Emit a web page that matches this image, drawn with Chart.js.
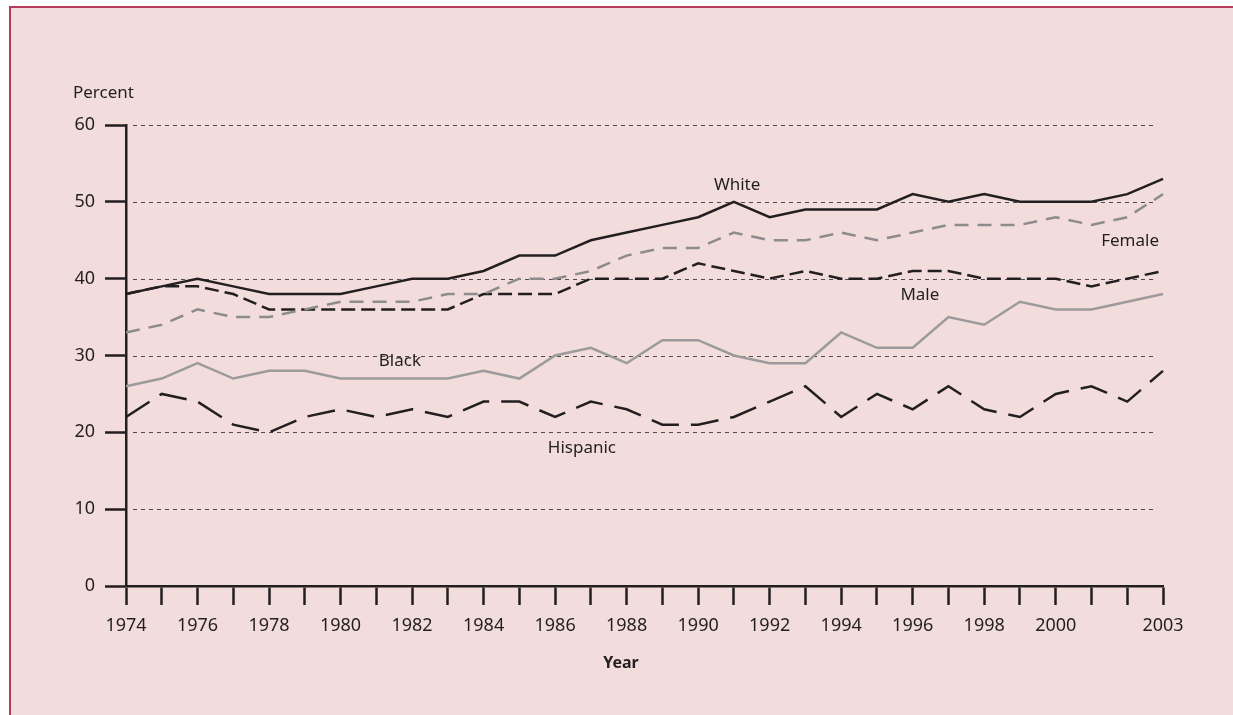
<!DOCTYPE html>
<html>
<head>
<meta charset="utf-8">
<script src="https://cdn.jsdelivr.net/npm/chart.js@4.4.0/dist/chart.umd.min.js"></script>
<style>
  html, body { margin: 0; padding: 0; background: #fff; overflow: hidden; }
  #frame { position: absolute; left: 9px; top: 6px; width: 1240px; height: 720px;
           background: #f2dddc; border-top: 2px solid #b83a5a; border-left: 2px solid #b83a5a; }
  #wrap { position: absolute; left: 0; top: 0; width: 1233px; height: 715px; }
</style>
</head>
<body>
<div id="frame"></div>
<div id="wrap"><canvas id="chart"></canvas></div>
<script>
const years = [1974, 1975, 1976, 1977, 1978, 1979, 1980, 1981, 1982, 1983, 1984, 1985, 1986, 1987, 1988,
               1989, 1990, 1991, 1992, 1993, 1994, 1995, 1996, 1997, 1998, 1999, 2000, 2001, 2002, 2003];
const yearLabels = [1974, 1976, 1978, 1980, 1982, 1984, 1986, 1988, 1990, 1992, 1994, 1996, 1998, 2000, 2003];

const white    = [38, 39, 40, 39, 38, 38, 38, 39, 40, 40, 41, 43, 43, 45, 46, 47, 48, 50, 48, 49, 49, 49, 51, 50, 51, 50, 50, 50, 51, 53];
const female   = [33, 34, 36, 35, 35, 36, 37, 37, 37, 38, 38, 40, 40, 41, 43, 44, 44, 46, 45, 45, 46, 45, 46, 47, 47, 47, 48, 47, 48, 51];
const male     = [38, 39, 39, 38, 36, 36, 36, 36, 36, 36, 38, 38, 38, 40, 40, 40, 42, 41, 40, 41, 40, 40, 41, 41, 40, 40, 40, 39, 40, 41];
const black    = [26, 27, 29, 27, 28, 28, 27, 27, 27, 27, 28, 27, 30, 31, 29, 32, 32, 30, 29, 29, 33, 31, 31, 35, 34, 37, 36, 36, 37, 38];
const hispanic = [22, 25, 24, 21, 20, 22, 23, 22, 23, 22, 24, 24, 22, 24, 23, 21, 21, 22, 24, 26, 22, 25, 23, 26, 23, 22, 25, 26, 24, 28];

const ink = '#231f20';
const font = 'Noto Sans';

// where the series names sit, in axis units (year index, percent)
const seriesLabels = [
    { text: 'White',    at: [17.09, 52.2] },
    { text: 'Female',   at: [28.08, 44.9] },
    { text: 'Male',     at: [22.2, 37.9] },
    { text: 'Black',    at: [7.66, 29.2] },
    { text: 'Hispanic', at: [12.75, 18.0] }
];

const decor = {
    id: 'decor',
    beforeDatasetsDraw(chart) {
        const { ctx, chartArea, scales } = chart;
        ctx.save();
        ctx.strokeStyle = '#4f4a4b';
        ctx.lineWidth = 1;
        ctx.setLineDash([4, 4]);
        for (let v = 10; v <= 60; v += 10) {
            const y = Math.round(scales.y.getPixelForValue(v)) + 0.5;
            ctx.beginPath();
            ctx.moveTo(chartArea.left + 7, y);
            ctx.lineTo(chartArea.right - 8, y);
            ctx.stroke();
        }
        ctx.restore();
    },
    afterDatasetsDraw(chart) {
        const { ctx, chartArea, scales } = chart;
        ctx.save();
        ctx.fillStyle = ink;
        ctx.font = '17px "' + font + '"';
        ctx.textAlign = 'center';
        ctx.textBaseline = 'middle';
        seriesLabels.forEach(l => {
            ctx.fillText(l.text, scales.x.getPixelForValue(l.at[0]), scales.y.getPixelForValue(l.at[1]));
        });
        // axis title sits a bit left of centre in the original
        ctx.font = 'bold 16px "' + font + '"';
        ctx.fillText('Year', chartArea.left + 495, chartArea.bottom + 77);
        ctx.font = '17px "' + font + '"';
        ctx.textAlign = 'left';
        ctx.fillText('Percent', chartArea.left - 53, chartArea.top - 32);
        ctx.restore();
    }
};

function line(label, data, color, dash) {
    return {
        label: label,
        data: data,
        borderColor: color,
        borderWidth: 2.5,
        borderDash: dash,
        pointRadius: 0,
        tension: 0,
        fill: false
    };
}

new Chart(document.getElementById('chart'), {
    type: 'line',
    data: {
        labels: years,
        datasets: [
            line('White', white, ink, []),
            line('Female', female, '#8e8b8c', [14, 9]),
            line('Male', male, ink, [14, 6]),
            line('Black', black, '#9c9a9b', []),
            line('Hispanic', hispanic, ink, [28, 12])
        ]
    },
    plugins: [decor],
    options: {
        responsive: true,
        maintainAspectRatio: false,
        animation: false,
        layout: { padding: { top: 125, right: 70, left: 0, bottom: 0 } },
        plugins: { legend: { display: false }, tooltip: { enabled: false } },
        scales: {
            x: {
                type: 'category',
                offset: false,
                grid: { drawOnChartArea: false, tickLength: 19, tickColor: ink, tickWidth: 2.5 },
                border: { color: ink, width: 2.5 },
                ticks: {
                    autoSkip: false, maxRotation: 0, padding: 10, color: ink,
                    font: { family: font, size: 18 },
                    callback: function(value) {
                        const yr = this.getLabelForValue(value);
                        return yearLabels.includes(Number(yr)) ? yr : '';
                    }
                },
                afterFit: s => { s.height = 129; }
            },
            y: {
                min: 0, max: 60,
                grid: { drawOnChartArea: false, tickLength: 21, tickColor: ink, tickWidth: 2.5 },
                border: { color: ink, width: 2.5 },
                ticks: { stepSize: 10, padding: 10, color: ink, font: { family: font, size: 18 } },
                afterFit: s => { s.width = 126; }
            }
        }
    }
});
</script>
</body>
</html>
